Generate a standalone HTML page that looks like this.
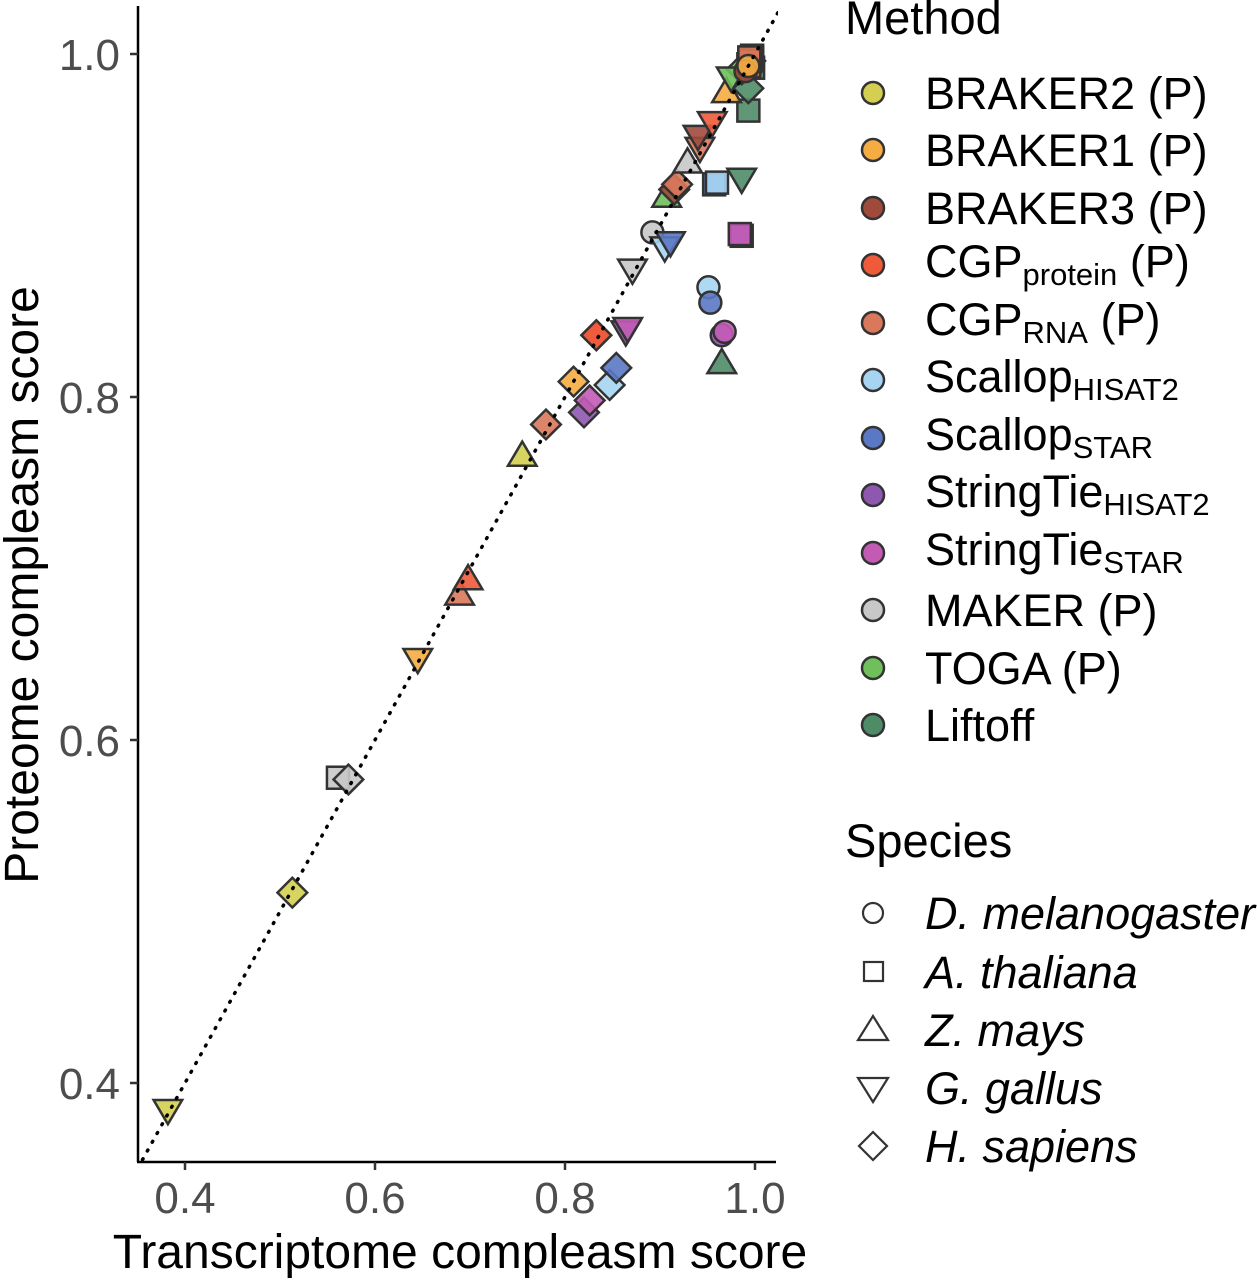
<!DOCTYPE html>
<html><head><meta charset="utf-8">
<style>
html,body{margin:0;padding:0;background:#fff;}
svg{display:block;font-family:"Liberation Sans",Arial,sans-serif;}
</style></head>
<body>
<svg id="chart" width="1257" height="1280" viewBox="0 0 1257 1280">
<defs><clipPath id="plotclip"><rect x="138" y="8" width="640" height="1154"/></clipPath></defs>
<g id="plot" clip-path="url(#plotclip)"></g>
<g id="axes"></g>
</svg>
<script>
const methods = ["BRAKER2 (P)","BRAKER1 (P)","BRAKER3 (P)","CGPprotein (P)","CGPRNA (P)","ScallopHISAT2","ScallopSTAR","StringTieHISAT2","StringTieSTAR","MAKER (P)","TOGA (P)","Liftoff"];
const methodColors = ["#d4cf50","#f5ac43","#a04a3c","#ee5a3a","#d9785a","#a6d4f2","#5b78c4","#8e58b0","#c35bb5","#c8c8c8","#6fbf5a","#4e8c68"];
const species = ["D. melanogaster","A. thaliana","Z. mays","G. gallus","H. sapiens"];
const speciesShapes = ["circle","square","triangle","down","diamond"];
const xTicks = [0.4,0.6,0.8,1.0];
const yTicks = [0.4,0.6,0.8,1.0];
const ptMethod =  [0,0,1,1,2,9,9,10,11,3,4,0,9,9,1,4,3,7,8,5,6,3,7,8,9,9,5,6,10,2,4,9,4,2,3,6,5,11,7,8,5,6,7,8,11,11,1,11,10,10,0,1,2,3,4,10,2,1];
const ptSpecies = [3,4,4,1,1,1,1,1,1,1,1,2,1,4,3,2,2,4,4,4,4,4,3,3,3,0,3,3,2,4,4,2,3,3,3,1,1,3,1,1,0,0,0,0,2,1,2,4,4,3,1,1,1,1,1,0,0,0];
const ptX = [0.382,0.513,0.995,0.996,0.994,0.993,0.995,0.997,0.998,0.994,0.995,0.755,0.561,0.572,0.645,0.689,0.698,0.820,0.826,0.847,0.854,0.833,0.864,0.866,0.871,0.892,0.905,0.911,0.907,0.915,0.918,0.929,0.942,0.940,0.955,0.957,0.960,0.986,0.986,0.984,0.951,0.953,0.965,0.968,0.965,0.993,0.970,0.993,0.986,0.975,0.996,0.997,0.996,0.995,0.994,0.992,0.990,0.993];
const ptY = [0.384,0.511,0.996,0.998,0.995,0.994,0.997,0.999,0.992,0.993,0.996,0.766,0.578,0.577,0.647,0.685,0.694,0.791,0.798,0.807,0.817,0.836,0.838,0.840,0.874,0.896,0.887,0.890,0.917,0.921,0.924,0.937,0.945,0.952,0.960,0.924,0.925,0.927,0.894,0.895,0.864,0.855,0.836,0.838,0.820,0.967,0.978,0.980,0.991,0.986,0.997,0.998,0.997,0.996,0.998,0.992,0.990,0.993];
const exMethod = [1,4,3];
const exSpecies = [4,4,4];
const exX = [0.809,0.780,0.833];
const exY = [0.809,0.784,0.836];

const NS="http://www.w3.org/2000/svg";
function xs(v){return 185+(v-0.4)*950;}
function ys(v){return 1083-(v-0.4)*1715;}
function el(tag,attrs,parent){const e=document.createElementNS(NS,tag);for(const k in attrs)e.setAttribute(k,attrs[k]);parent.appendChild(e);return e;}
function shape(kind,cx,cy,s,fill,stroke,sw,parent){
  let e;
  if(kind==="circle") e=el("circle",{cx:cx,cy:cy,r:s},parent);
  else if(kind==="square") e=el("rect",{x:cx-s,y:cy-s,width:2*s,height:2*s},parent);
  else if(kind==="triangle") e=el("polygon",{points:`${cx},${cy-s*1.25} ${cx-s*1.3},${cy+s*0.95} ${cx+s*1.3},${cy+s*0.95}`},parent);
  else if(kind==="down") e=el("polygon",{points:`${cx},${cy+s*1.25} ${cx-s*1.3},${cy-s*0.95} ${cx+s*1.3},${cy-s*0.95}`},parent);
  else e=el("polygon",{points:`${cx},${cy-s*1.35} ${cx+s*1.35},${cy} ${cx},${cy+s*1.35} ${cx-s*1.35},${cy}`},parent);
  e.setAttribute("fill",fill);e.setAttribute("stroke",stroke);e.setAttribute("stroke-width",sw);
  return e;
}
const plot=document.getElementById("plot"), axes=document.getElementById("axes");
const allM=ptMethod.concat(exMethod), allS=ptSpecies.concat(exSpecies), allX=ptX.concat(exX), allY=ptY.concat(exY);
for(let i=0;i<allM.length;i++){
  const p=shape(speciesShapes[allS[i]],xs(allX[i]),ys(allY[i]),11,methodColors[allM[i]],"#333",2.5,plot);
  p.setAttribute("fill-opacity","0.9");
  
  
}
const dl=el("line",{x1:xs(0.34),y1:ys(0.34),x2:xs(1.04),y2:ys(1.04),stroke:"#000","stroke-width":3.5,"stroke-dasharray":"1 9","stroke-linecap":"round"},plot);


const ya=el("line",{x1:138,y1:6,x2:138,y2:1162,stroke:"#000","stroke-width":2.5},axes);


const xa=el("line",{x1:137,y1:1162,x2:776,y2:1162,stroke:"#000","stroke-width":2.5},axes);


xTicks.forEach(v=>{
  el("line",{x1:xs(v),y1:1162,x2:xs(v),y2:1170,stroke:"#333","stroke-width":2.5},axes);
  const t=el("text",{x:xs(v),y:1213,"text-anchor":"middle","font-size":44,fill:"#4d4d4d"},axes);t.textContent=v.toFixed(1);
  
  
});
yTicks.forEach(v=>{
  el("line",{x1:130,y1:ys(v),x2:138,y2:ys(v),stroke:"#333","stroke-width":2.5},axes);
  const t=el("text",{x:120,y:ys(v)+16,"text-anchor":"end","font-size":44,fill:"#4d4d4d"},axes);t.textContent=v.toFixed(1);
  
  
});
</script>
<svg style="position:absolute;left:0;top:0" width="1257" height="1280">
<text x="460" y="1268" text-anchor="middle" font-size="48" font-family="Liberation Sans, sans-serif">Transcriptome compleasm score</text>
<text transform="translate(38,585) rotate(-90)" text-anchor="middle" font-size="48" font-family="Liberation Sans, sans-serif">Proteome compleasm score</text>
<g font-family="Liberation Sans, sans-serif" font-size="45">
<text x="845" y="34" font-size="47">Method</text>
<g><circle cx="873" cy="93" r="11" fill="#d4cf50" stroke="#333" stroke-width="2.5"/><text x="925" y="109">BRAKER2 (P)</text></g>
<g><circle cx="873" cy="150" r="11" fill="#f5ac43" stroke="#333" stroke-width="2.5"/><text x="925" y="166">BRAKER1 (P)</text></g>
<g><circle cx="873" cy="208" r="11" fill="#a04a3c" stroke="#333" stroke-width="2.5"/><text x="925" y="224">BRAKER3 (P)</text></g>
<g><circle cx="873" cy="265" r="11" fill="#ee5a3a" stroke="#333" stroke-width="2.5"/><text x="925" y="277">CGP<tspan font-size="31" dy="8">protein</tspan><tspan dy="-8"> (P)</tspan></text></g>
<g><circle cx="873" cy="323" r="11" fill="#d9785a" stroke="#333" stroke-width="2.5"/><text x="925" y="335">CGP<tspan font-size="31" dy="8">RNA</tspan><tspan dy="-8"> (P)</tspan></text></g>
<g><circle cx="873" cy="380" r="11" fill="#a6d4f2" stroke="#333" stroke-width="2.5"/><text x="925" y="392">Scallop<tspan font-size="31" dy="8">HISAT2</tspan></text></g>
<g><circle cx="873" cy="438" r="11" fill="#5b78c4" stroke="#333" stroke-width="2.5"/><text x="925" y="450">Scallop<tspan font-size="31" dy="8">STAR</tspan></text></g>
<g><circle cx="873" cy="495" r="11" fill="#8e58b0" stroke="#333" stroke-width="2.5"/><text x="925" y="507">StringTie<tspan font-size="31" dy="8">HISAT2</tspan></text></g>
<g><circle cx="873" cy="553" r="11" fill="#c35bb5" stroke="#333" stroke-width="2.5"/><text x="925" y="565">StringTie<tspan font-size="31" dy="8">STAR</tspan></text></g>
<g><circle cx="873" cy="610" r="11" fill="#c8c8c8" stroke="#333" stroke-width="2.5"/><text x="925" y="626">MAKER (P)</text></g>
<g><circle cx="873" cy="668" r="11" fill="#6fbf5a" stroke="#333" stroke-width="2.5"/><text x="925" y="684">TOGA (P)</text></g>
<g><circle cx="873" cy="725" r="11" fill="#4e8c68" stroke="#333" stroke-width="2.5"/><text x="925" y="741">Liftoff</text></g>
<text x="845" y="857" font-size="47">Species</text>
<g font-style="italic">
<g><circle cx="873" cy="913" r="10" fill="none" stroke="#333" stroke-width="2.2"/><text x="925" y="929">D. melanogaster</text></g>
<g><rect x="864" y="962" width="19" height="19" fill="none" stroke="#333" stroke-width="2.2"/><text x="925" y="988">A. thaliana</text></g>
<g><polygon points="873,1016 858,1040 888,1040" fill="none" stroke="#333" stroke-width="2.2"/><text x="925" y="1046">Z. mays</text></g>
<g><polygon points="873,1102 858,1078 888,1078" fill="none" stroke="#333" stroke-width="2.2"/><text x="925" y="1104">G. gallus</text></g>
<g><polygon points="873,1132 887,1146 873,1160 859,1146" fill="none" stroke="#333" stroke-width="2.2"/><text x="925" y="1162">H. sapiens</text></g>
</g>
</g>
</svg>
</body></html>
